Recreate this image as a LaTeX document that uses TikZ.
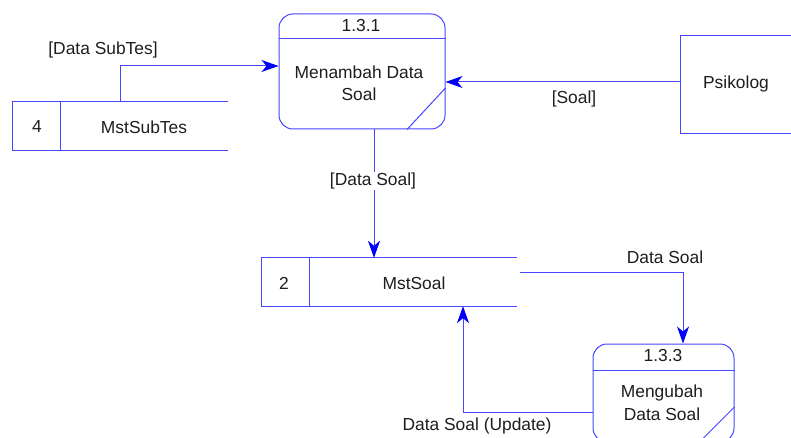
\documentclass[tikz,border=0pt]{standalone}
\usepackage{fontspec}
\setmainfont{Liberation Sans}
\usetikzlibrary{arrows.meta, positioning}
\definecolor{dfdline}{RGB}{70, 70, 255}
\definecolor{dfdtip}{RGB}{0, 0, 250}
\definecolor{dfdtext}{RGB}{30, 30, 30}

\tikzset{
  line/.style={draw=dfdline, line width=1pt},
  flow/.style={line, -{Stealth[length=17pt, width=12pt, inset=5pt, dfdtip]}},
  store/.style={inner sep=0pt, minimum height=48pt},
  proc/.style={line, rounded corners=14pt, inner sep=0pt},
  entity/.style={line, inner sep=0pt},
  lbl/.style={text=dfdtext, inner sep=1pt, font=\fontsize{17.4}{22.5}\selectfont, align=center}
}

\begin{document}
\begin{tikzpicture}[x=1pt, y=-1pt]
                \clip (0,0) rectangle (791,438);
                \fill[white] (0,0) rectangle (791,438);

                % data stores
                \node[store, minimum width=215pt] (subtes) at (120.5,126) {};
                \draw[line] (subtes.north east) -- (subtes.north west) -- (subtes.south west) -- (subtes.south east);
                \draw[line] (subtes.north west -| 60,0) -- (subtes.south west -| 60,0);
                \node[lbl] (subtesno) at (37,127) {4};
                \node[lbl] (subtesname) at (144,127) {MstSubTes};

                \node[store, minimum width=255pt] (soal) at (389.5,282) {};
                \draw[line] (soal.north east) -- (soal.north west) -- (soal.south west) -- (soal.south east);
                \draw[line] (soal.north west -| 309,0) -- (soal.south west -| 309,0);
                \node[lbl] (soalno) at (284,283) {2};
                \node[lbl] (soalname) at (414,283) {MstSoal};

                % processes
                \node[proc, minimum width=166pt, minimum height=115pt] (proc1) at (362,71.5) {};
                \draw[line] (proc1.west |- 0,39) -- (proc1.east |- 0,39);
                \draw[line] (proc1.south -| 407,0) -- (proc1.east |- 0,88);
                \node[lbl] (proc1no) at (361,26) {1.3.1};
                \node[lbl] (proc1name) at (359,83.5) {Menambah Data\\Soal};

                \node[proc, minimum width=141pt, minimum height=98pt] (proc3) at (663.5,393) {};
                \draw[line] (proc3.west |- 0,370) -- (proc3.east |- 0,370);
                \draw[line] (proc3.south -| 699,0) -- (proc3.east |- 0,407);
                \node[lbl] (proc3no) at (663,356) {1.3.3};
                \node[lbl] (proc3name) at (662,403) {Mengubah\\Data Soal};

                % external entity
                \node[entity, minimum width=114pt, minimum height=98pt] (psi) at (737,85) {};
                \node[lbl] (psiname) at (736,84) {Psikolog};

                % data flows
                \draw[flow] (subtes.north) |- (proc1.west |- 0,66);
                \node[lbl] (fsubtes) at (103,50) {[Data SubTes]};

                \draw[flow] (psi.west |- 0,82) -- (proc1.east |- 0,82);
                \node[lbl] (fsoal) at (574,99) {[Soal]};

                \draw[flow] (proc1.south -| 374,0) -- (soal.north -| 374,0);
                \node[lbl, fill=white] (fdatasoal) at (373,181) {[Data Soal]};

                \draw[flow] (soal.east |- 0,272) ++(3,0) -| (proc3.north -| 683,0);
                \node[lbl] (fread) at (665,257) {Data Soal};

                \draw[flow] (proc3.west |- 0,412) -| (soal.south -| 463,0);
                \node[lbl] (fupdate) at (477,426) {Data Soal (Update)};
            \end{tikzpicture}
\end{document}
